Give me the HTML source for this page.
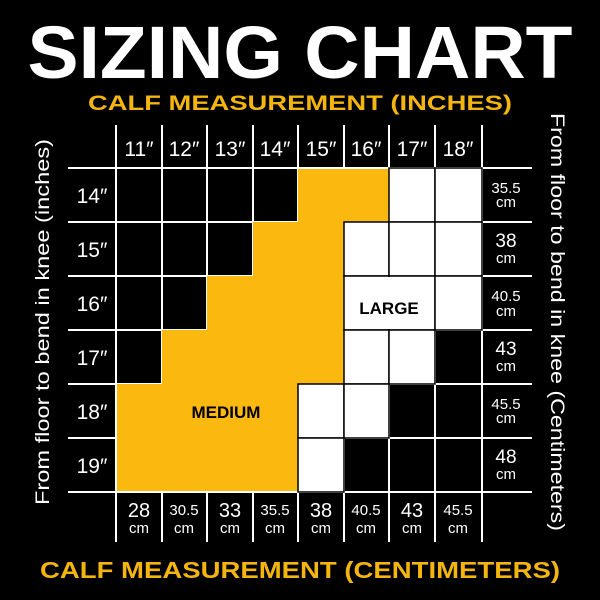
<!DOCTYPE html>
<html><head><style>body{margin:0;background:#000}svg{display:block}</style></head><body>
<svg width="600" height="600" viewBox="0 0 600 600" xmlns="http://www.w3.org/2000/svg" font-family="Liberation Sans, sans-serif">
<rect width="600" height="600" fill="#000"/>
<text x="300" y="78" text-anchor="middle" fill="#fff" font-weight="bold" font-size="74" textLength="545" lengthAdjust="spacingAndGlyphs">SIZING CHART</text>
<text x="300" y="110" text-anchor="middle" fill="#f5b50f" font-weight="bold" font-size="21" textLength="424" lengthAdjust="spacingAndGlyphs">CALF MEASUREMENT (INCHES)</text>
<text x="300" y="578" text-anchor="middle" fill="#f5b50f" font-weight="bold" font-size="23" textLength="520" lengthAdjust="spacingAndGlyphs">CALF MEASUREMENT (CENTIMETERS)</text>
<text transform="translate(49,322) rotate(-90)" text-anchor="middle" fill="#fff" font-size="19" textLength="366" lengthAdjust="spacingAndGlyphs">From floor to bend in knee (inches)</text>
<text transform="translate(551,322) rotate(90)" text-anchor="middle" fill="#fff" font-size="19" textLength="418" lengthAdjust="spacingAndGlyphs">From floor to bend in knee (Centimeters)</text>
<g stroke="#fff" stroke-width="2">
<line x1="116" y1="125" x2="116" y2="542"/><line x1="162" y1="125" x2="162" y2="542"/><line x1="207" y1="125" x2="207" y2="542"/><line x1="253" y1="125" x2="253" y2="542"/><line x1="298" y1="125" x2="298" y2="542"/><line x1="344" y1="125" x2="344" y2="542"/><line x1="389" y1="125" x2="389" y2="542"/><line x1="435" y1="125" x2="435" y2="542"/><line x1="482" y1="125" x2="482" y2="542"/>
<line x1="68" y1="168" x2="532" y2="168"/><line x1="68" y1="222" x2="532" y2="222"/><line x1="68" y1="276" x2="532" y2="276"/><line x1="68" y1="330" x2="532" y2="330"/><line x1="68" y1="384" x2="532" y2="384"/><line x1="68" y1="438" x2="532" y2="438"/><line x1="68" y1="492" x2="532" y2="492"/>
</g>
<g fill="#fbb80f">
<rect x="298" y="169" width="91" height="53"/>
<rect x="253" y="222" width="91" height="54"/>
<rect x="207" y="276" width="137" height="54"/>
<rect x="162" y="330" width="182" height="54"/>
<rect x="117" y="384" width="181" height="107"/>
</g>
<g fill="#fff" stroke="#000" stroke-width="1.5">
<rect x="389" y="168" width="46" height="54"/><rect x="435" y="168" width="47" height="54"/>
<rect x="344" y="222" width="45" height="54"/><rect x="389" y="222" width="46" height="54"/><rect x="435" y="222" width="47" height="54"/>
<rect x="344" y="276" width="45" height="54"/><rect x="389" y="276" width="46" height="54"/><rect x="435" y="276" width="47" height="54"/>
<rect x="344" y="330" width="45" height="54"/><rect x="389" y="330" width="46" height="54"/>
<rect x="298" y="384" width="46" height="54"/><rect x="344" y="384" width="45" height="54"/>
<rect x="298" y="438" width="46" height="54"/>
</g>
<rect x="345" y="277" width="89" height="52" fill="#fff"/>
<text x="389" y="314" text-anchor="middle" font-weight="bold" font-size="17" fill="#000">LARGE</text>
<text x="226" y="418" text-anchor="middle" font-weight="bold" font-size="17" fill="#000">MEDIUM</text>
<g fill="#fff" font-size="21" text-anchor="middle">
<text x="139" y="156">11″</text><text x="184" y="156">12″</text><text x="230" y="156">13″</text><text x="275" y="156">14″</text><text x="321" y="156">15″</text><text x="366" y="156">16″</text><text x="412" y="156">17″</text><text x="458" y="156">18″</text>
<text x="92" y="203">14″</text><text x="92" y="257">15″</text><text x="92" y="311">16″</text><text x="92" y="365">17″</text><text x="92" y="419">18″</text><text x="92" y="473">19″</text>
</g>
<g fill="#fff" text-anchor="middle">
<g font-size="15"><text x="506" y="193">35.5</text><text x="506" y="247" font-size="19">38</text><text x="506" y="301">40.5</text><text x="506" y="355" font-size="19">43</text><text x="506" y="409">45.5</text><text x="506" y="463" font-size="19">48</text></g>
<g font-size="15"><text x="506" y="207">cm</text><text x="506" y="263">cm</text><text x="506" y="316">cm</text><text x="506" y="371">cm</text><text x="506" y="423">cm</text><text x="506" y="479">cm</text></g>
<text x="139" y="517" font-size="20">28</text><text x="184" y="515" font-size="15">30.5</text><text x="230" y="517" font-size="20">33</text><text x="275" y="515" font-size="15">35.5</text><text x="321" y="517" font-size="20">38</text><text x="366" y="515" font-size="15">40.5</text><text x="412" y="517" font-size="20">43</text><text x="458" y="515" font-size="15">45.5</text>
<g font-size="15"><text x="139" y="533">cm</text><text x="184" y="533">cm</text><text x="230" y="533">cm</text><text x="275" y="533">cm</text><text x="321" y="533">cm</text><text x="366" y="533">cm</text><text x="412" y="533">cm</text><text x="458" y="533">cm</text></g>
</g>
</svg>
</body></html>
